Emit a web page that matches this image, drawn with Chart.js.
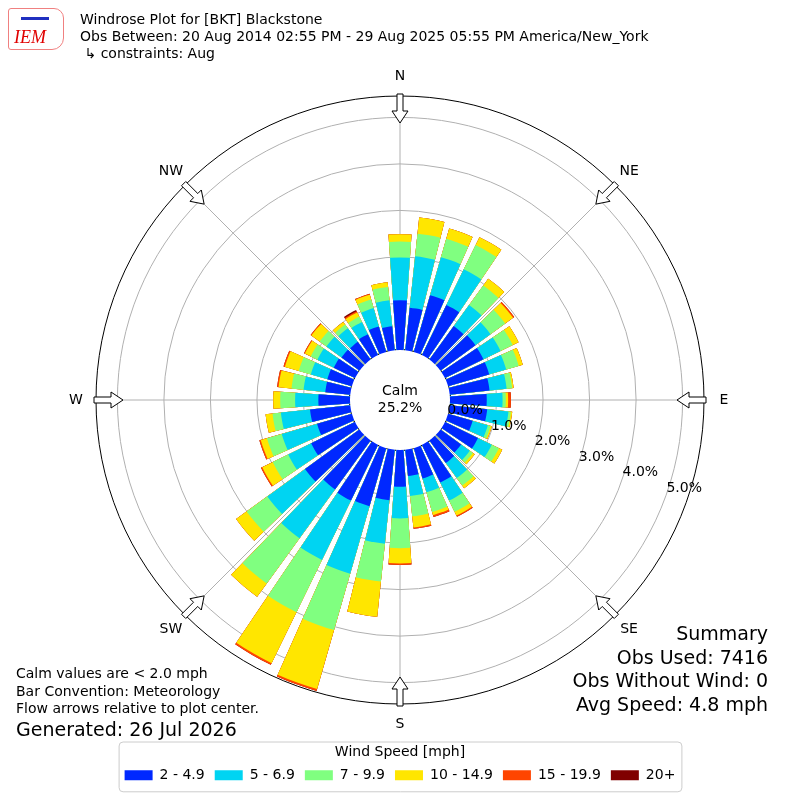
<!DOCTYPE html>
<html>
<head>
<meta charset="utf-8">
<script src="https://cdn.jsdelivr.net/npm/chart.js@4.4.1/dist/chart.umd.min.js"></script>
<style>
    html, body { margin: 0; padding: 0; background: #fff; }
    #wrap { position: relative; width: 800px; height: 800px; font-family: "DejaVu Sans", sans-serif; color: #000; }
    #rose { position: absolute; left: 0; top: 0; }
    .txt { position: absolute; white-space: pre; }
    #logo { position: absolute; left: 8px; top: 8px; width: 54px; height: 40px; border: 1px solid #f08080; border-radius: 3px 10px 12px 3px; }
    #logo span { position: absolute; left: 5px; top: 18px; font: italic 18px "Liberation Serif", serif; color: #e00000; }
    #logo i { position: absolute; left: 12px; top: 8px; width: 28px; height: 3px; background: #2030c0; }
</style>
</head>
<body>
<div id="wrap">
    <canvas id="rose" width="800" height="800"></canvas>
    <div id="logo"><i></i><span>IEM</span></div>
    <div class="txt" style="left:80px; top:11px; font-size:14px; line-height:17px;">Windrose Plot for [BKT] Blackstone
Obs Between: 20 Aug 2014 02:55 PM - 29 Aug 2025 05:55 PM America/New_York
 ↳ constraints: Aug</div>
    <div class="txt" style="left:16px; top:665px; font-size:14px; line-height:17.5px;">Calm values are &lt; 2.0 mph
Bar Convention: Meteorology
Flow arrows relative to plot center.</div>
    <div class="txt" style="left:16px; top:717px; font-size:19px; line-height:24px;">Generated: 26 Jul 2026</div>
    <div class="txt" style="right:32px; top:622px; font-size:19px; line-height:23.5px; text-align:right;">Summary
Obs Used: 7416
Obs Without Wind: 0
Avg Speed: 4.8 mph</div>
</div>
<script>
// wind directions (deg, meteorological) and % frequency per speed bin
const directions = [0, 10, 20, 30, 40, 50, 60, 70, 80, 90, 100, 110, 120, 130, 140, 150, 160, 170,
    180, 190, 200, 210, 220, 230, 240, 250, 260, 270, 280, 290, 300, 310, 320, 330, 340, 350];
const compassLabels = ["N", "NE", "E", "SE", "S", "SW", "W", "NW"];
const speedBins = ["2 - 4.9", "5 - 6.9", "7 - 9.9", "10 - 14.9", "15 - 19.9", "20+"];

const speed2to5 = [1.07, 0.92, 1.27, 1.20, 0.89, 0.93, 0.92, 0.92, 0.86, 0.79, 0.81, 0.55, 0.79, 0.55, 0.60, 0.90, 0.68, 0.57,
    0.79, 1.09, 1.30, 1.33, 1.30, 1.45, 1.05, 0.78, 0.87, 0.68, 0.54, 0.55, 0.51, 0.48, 0.47, 0.50, 0.57, 0.52];
const speed5to7 = [0.92, 1.11, 0.85, 0.85, 0.56, 0.40, 0.41, 0.38, 0.37, 0.34, 0.46, 0.34, 0.33, 0.23, 0.40, 0.43, 0.31, 0.43,
    0.68, 0.94, 1.51, 1.42, 1.30, 1.00, 0.55, 0.79, 0.63, 0.50, 0.47, 0.37, 0.39, 0.40, 0.36, 0.29, 0.41, 0.56];
const speed7to10 = [0.34, 0.49, 0.41, 0.58, 0.52, 0.39, 0.29, 0.28, 0.12, 0.07, 0.05, 0.06, 0.17, 0.08, 0.20, 0.27, 0.44, 0.44,
    0.64, 0.82, 1.26, 1.25, 1.20, 0.55, 0.37, 0.33, 0.18, 0.32, 0.26, 0.27, 0.16, 0.18, 0.10, 0.13, 0.19, 0.29];
const speed10to15 = [0.16, 0.35, 0.23, 0.19, 0.18, 0.21, 0.14, 0.09, 0.03, 0.05, 0.03, 0.03, 0.08, 0.05, 0.07, 0.09, 0.07, 0.24,
    0.33, 0.76, 1.32, 1.22, 0.35, 0.28, 0.25, 0.14, 0.15, 0.15, 0.28, 0.31, 0.14, 0.22, 0.07, 0.10, 0.11, 0.10];
const speed15to20 = [0, 0, 0, 0, 0, 0.03, 0, 0, 0, 0.06, 0, 0, 0, 0, 0, 0.03, 0.04, 0.03,
    0.03, 0, 0.04, 0.04, 0, 0, 0.03, 0.03, 0, 0, 0.03, 0.03, 0.02, 0.02, 0, 0.03, 0.02, 0];
const speed20plus = [0, 0, 0, 0, 0, 0, 0, 0, 0, 0, 0, 0, 0, 0, 0, 0, 0, 0,
    0, 0, 0, 0, 0, 0, 0, 0, 0, 0, 0, 0, 0, 0, 0, 0.03, 0, 0];

const ringTicks = [0, 1, 2, 3, 4, 5];
const calmPercent = 25.2;

const speedColors = ["#0028ff", "#00d4f2", "#80ff80", "#ffe600", "#ff4500", "#800000"];
const FONT = "DejaVu Sans";
const R_MIN = -1.075;   // puts 0% on the rim of the calm circle
const R_MAX = 5.46;
const BAR_DEG = 8;
const GAP_DEG = 2;

Chart.defaults.font.family = FONT;
Chart.defaults.color = "#000";

const bins = [speed2to5, speed5to7, speed7to10, speed10to15, speed15to20, speed20plus];

// polarArea can't stack, so each bin is drawn as the running total, biggest underneath
function cumulative(k) {
    return directions.map((d, i) => bins.slice(0, k + 1).reduce((s, arr) => s + arr[i], 0));
}

// first slice is a zero-radius lead-in of -4 deg so the N bar is centred on north,
// then bar / gap pairs
function expand(vals) {
    const out = [R_MIN];
    vals.forEach(v => out.push(v, R_MIN));
    return out;
}
const sliceAngles = [-BAR_DEG / 2];
directions.forEach(() => sliceAngles.push(BAR_DEG, GAP_DEG));

// white disc for the calm circle, drawn on top of everything
const datasets = [{
    label: "Calm",
    data: [0],
    backgroundColor: "#fff",
    borderWidth: 0,
    angle: 360
}];
speedBins.forEach((name, k) => {
    datasets.push({
        label: name,
        data: expand(cumulative(k)),
        backgroundColor: speedColors[k],
        borderWidth: 0,
        angle: ctx => sliceAngles[ctx.dataIndex]
    });
});

function drawArrow(ctx, cx, cy, a, rTail, rTip) {
    const rHead = rTip + 12;
    const pts = [[rTail, -3], [rHead, -3], [rHead, -8], [rTip, 0], [rHead, 8], [rHead, 3], [rTail, 3]];
    const c = Math.cos(a), s = Math.sin(a);
    ctx.beginPath();
    pts.forEach(([r, w], i) => {
        const x = cx + r * c - w * s;
        const y = cy + r * s + w * c;
        if (i === 0) ctx.moveTo(x, y); else ctx.lineTo(x, y);
    });
    ctx.closePath();
    ctx.fillStyle = "#fff";
    ctx.fill();
    ctx.strokeStyle = "#000";
    ctx.lineWidth = 1;
    ctx.stroke();
}

const roseDecor = {
    id: "roseDecor",
    afterDraw(chart) {
        const s = chart.scales.r;
        const ctx = chart.ctx;
        const outer = s.drawingArea;
        ctx.save();
        ctx.font = "14px " + FONT;
        ctx.textAlign = "center";
        ctx.textBaseline = "middle";

        compassLabels.forEach((lab, i) => {
            drawArrow(ctx, s.xCenter, s.yCenter, s.getIndexAngle(i) - Math.PI / 2, outer + 2, outer - 27);
            const p = s.getPointPosition(i, outer + 20);
            ctx.fillStyle = "#000";
            ctx.fillText(lab, p.x, p.y);
        });

        ctx.fillText("Calm", s.xCenter, s.yCenter - 9);
        ctx.fillText(calmPercent.toFixed(1) + "%", s.xCenter, s.yCenter + 8);

        // ring labels run out toward ESE
        const ta = 19.5 * Math.PI / 180;
        ctx.textAlign = "left";
        ctx.textBaseline = "bottom";
        ringTicks.forEach(v => {
            const d = s.getDistanceFromCenterForValue(v);
            ctx.fillText(v.toFixed(1) + "%", s.xCenter + d * Math.cos(ta), s.yCenter + d * Math.sin(ta) + 1);
        });

        // frame round the legend
        const lg = chart.legend;
        const hb = lg.legendHitBoxes;
        if (hb && hb.length) {
            const x0 = Math.min(...hb.map(h => h.left)) - 6;
            const x1 = Math.max(...hb.map(h => h.left + h.width)) + 6;
            ctx.strokeStyle = "#cccccc";
            ctx.lineWidth = 1;
            ctx.beginPath();
            ctx.roundRect(x0 + 0.5, lg.top + 0.5, x1 - x0, lg.bottom - lg.top - 1, 4);
            ctx.stroke();
        }
        ctx.restore();
    }
};

new Chart(document.getElementById("rose").getContext("2d"), {
    type: "polarArea",
    data: {
        labels: compassLabels,
        datasets: datasets
    },
    options: {
        responsive: false,
        animation: false,
        layout: { padding: { left: 96, right: 96, top: 58.5, bottom: 7.7 } },
        scales: {
            r: {
                min: R_MIN,
                max: R_MAX,
                startAngle: 0,
                beginAtZero: false,
                ticks: { display: false },
                afterBuildTicks: scale => {
                    scale.ticks = [R_MIN].concat(ringTicks, [R_MAX]).map(v => ({ value: v }));
                },
                grid: {
                    circular: true,
                    color: ctx => (ctx.tick.value === 0 || ctx.tick.value === R_MAX) ? "#000" : "#b0b0b0",
                    lineWidth: ctx => ctx.tick.value === 0 ? 2 : 1
                },
                angleLines: { display: true, color: "#b0b0b0", lineWidth: 1 },
                pointLabels: { display: false }
            }
        },
        plugins: {
            tooltip: { enabled: false },
            legend: {
                position: "bottom",
                onClick: () => {},
                title: {
                    display: true,
                    text: "Wind Speed [mph]",
                    color: "#000",
                    font: { family: FONT, size: 14 },
                    padding: { top: 4, bottom: -4 }
                },
                labels: {
                    color: "#000",
                    font: { family: FONT, size: 14 },
                    boxWidth: 28,
                    boxHeight: 10,
                    padding: 10,
                    generateLabels: () => speedBins.map((t, i) => ({
                        text: t,
                        fillStyle: speedColors[i],
                        strokeStyle: speedColors[i],
                        lineWidth: 0,
                        hidden: false,
                        index: i
                    }))
                }
            }
        }
    },
    plugins: [roseDecor]
});
</script>
</body>
</html>
